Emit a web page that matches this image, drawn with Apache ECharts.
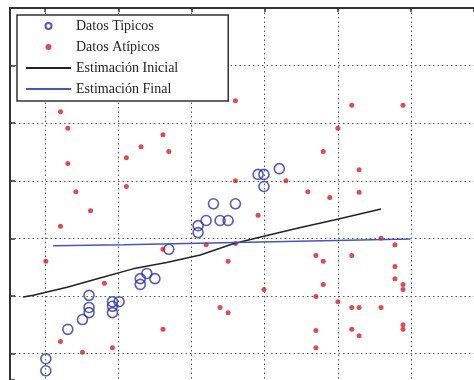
<!DOCTYPE html>
<html>
<head>
<meta charset="utf-8">
<script src="https://cdn.jsdelivr.net/npm/echarts@6/dist/echarts.min.js"></script>
<style>
  html, body { margin: 0; padding: 0; background: #fff; }
  #chart { width: 474px; height: 380px; }
</style>
</head>
<body>
<div id="chart"></div>
<script>
  // Datos Tipicos
  const tipicosX = [0.01, 0.01, 0.31, 0.51, 0.60, 0.60, 0.60, 0.92, 0.92, 0.92, 1.01, 1.30, 1.30, 1.39,
    1.50, 1.69, 2.09, 2.09, 2.20, 2.30, 2.39, 2.50, 2.60, 2.91, 2.99, 2.99, 3.20];
  const tipicosY = [-0.09, -0.30, 0.42, 0.59, 1.01, 0.80, 0.71, 0.90, 0.82, 0.71, 0.90, 1.30, 1.20, 1.39,
    1.30, 1.81, 2.22, 2.10, 2.31, 2.60, 2.31, 2.31, 2.60, 3.11, 3.11, 2.90, 3.21];

  // Datos Atipicos
  const atipicosX = [0.21, 0.31, 0.31, 0.42, 0.62, 0.21, 1.11, 1.31, 1.61, 1.11, 2.60, 1.69, 2.60, 3.29,
    3.59, 2.91, 4.19, 4.89, 4.00, 3.80, 4.29, 3.89, 4.29, 4.59, 4.78, 0.01, 0.81, 0.21, 0.51, 0.92,
    1.61, 1.61, 2.50, 2.39, 2.50, 2.20, 2.60, 3.70, 2.99, 3.70, 3.70, 3.70, 3.80, 4.19, 4.78, 4.78,
    4.89, 3.80, 4.89, 4.00, 4.19, 4.29, 4.59, 4.19, 4.29, 4.89, 4.89];
  const atipicosY = [4.20, 3.91, 3.30, 2.81, 2.48, 2.21, 3.40, 3.59, 3.80, 2.90, 4.39, 3.51, 3.00, 3.00,
    2.81, 2.40, 4.31, 4.31, 3.91, 3.51, 3.19, 2.71, 2.80, 2.00, 1.89, 1.60, 1.22, 0.21, 0.02, 0.10,
    1.81, 0.42, 1.60, 0.80, 0.71, 1.89, 1.91, 1.70, 1.11, 0.99, 0.40, 0.10, 1.60, 1.70, 1.51, 1.30,
    1.20, 1.20, 1.11, 0.90, 0.80, 0.80, 0.80, 0.42, 0.31, 0.50, 0.42];

  // Estimacion Inicial
  const inicialX = [-0.30, -0.16, 0.30, 0.75, 1.20, 1.66, 2.12, 2.58, 3.03, 3.49, 3.95, 4.59];
  const inicialY = [0.98, 1.01, 1.15, 1.31, 1.47, 1.58, 1.71, 1.91, 2.05, 2.19, 2.32, 2.51];

  // Estimacion Final
  const finalX = [0.11, 1.07, 4.99];
  const finalY = [1.87, 1.89, 1.99];

  const seriesNames = ['Datos Tipicos', 'Datos Atípicos', 'Estimación Inicial', 'Estimación Final'];

  const pairs = (xs, ys) => xs.map((x, i) => [x, ys[i]]);

  const chart = echarts.init(document.getElementById('chart'));
  const dotted = { color: '#555', width: 1, type: [1.5, 3] };

  const option = {
    animation: false,
    grid: {
      left: 10,
      top: 8,
      right: 0,
      bottom: 0,
      containLabel: false,
      outerBoundsMode: 'none',
    },
    legend: {
      orient: 'vertical',
      left: 17,
      top: 15,
      itemWidth: 45,
      itemHeight: 6,
      itemGap: 7,
      padding: [4, 50, 5, 8],
      backgroundColor: '#fff',
      borderColor: '#333',
      borderWidth: 1.5,
      borderRadius: 0,
      textStyle: {
        fontFamily: 'Liberation Serif',
        fontSize: 14,
        color: '#222',
      },
      data: [
        { name: seriesNames[0] },
        { name: seriesNames[1] },
        { name: seriesNames[2], itemStyle: { opacity: 0 } },
        { name: seriesNames[3], itemStyle: { opacity: 0 } },
      ],
    },
    xAxis: [
      {
        type: 'value',
        position: 'bottom',
        min: -0.48,
        max: 5.86,
        axisLine: { show: false },
        axisTick: { show: false },
        axisLabel: { show: false },
        splitLine: { show: true, showMinLine: false, showMaxLine: false, lineStyle: dotted },
      },
      {
        type: 'value',
        position: 'top',
        min: -0.48,
        max: 5.86,
        axisLine: { show: true, onZero: false, lineStyle: { color: '#333', width: 2 } },
        axisTick: { show: true, inside: true, length: 4, lineStyle: { color: '#333', width: 1.5 } },
        axisLabel: { show: false },
        splitLine: { show: false },
      },
    ],
    yAxis: {
      type: 'value',
      min: -0.46,
      max: 6,
      axisLine: { show: true, onZero: false, lineStyle: { color: '#333', width: 2 } },
      axisTick: { show: true, inside: true, length: 5, lineStyle: { color: '#333', width: 1.5 } },
      axisLabel: { show: false },
      splitLine: { show: true, showMinLine: false, showMaxLine: false, lineStyle: dotted },
    },
    series: [
      {
        name: seriesNames[0],
        type: 'scatter',
        symbol: 'circle',
        symbolSize: 10,
        itemStyle: { color: 'rgba(0,0,0,0)', borderColor: '#2a32a6', borderWidth: 1.6 },
        data: pairs(tipicosX, tipicosY),
      },
      {
        name: seriesNames[1],
        type: 'scatter',
        symbol: 'circle',
        symbolSize: 5,
        itemStyle: { color: '#d81e22' },
        data: pairs(atipicosX, atipicosY),
      },
      {
        name: seriesNames[2],
        type: 'line',
        symbol: 'none',
        lineStyle: { color: '#222', width: 1.5 },
        itemStyle: { color: '#222' },
        data: pairs(inicialX, inicialY),
      },
      {
        name: seriesNames[3],
        type: 'line',
        symbol: 'none',
        lineStyle: { color: '#4656bd', width: 1.5 },
        itemStyle: { color: '#4656bd' },
        data: pairs(finalX, finalY),
      },
    ],
  };

  chart.setOption(option);
</script>
</body>
</html>
